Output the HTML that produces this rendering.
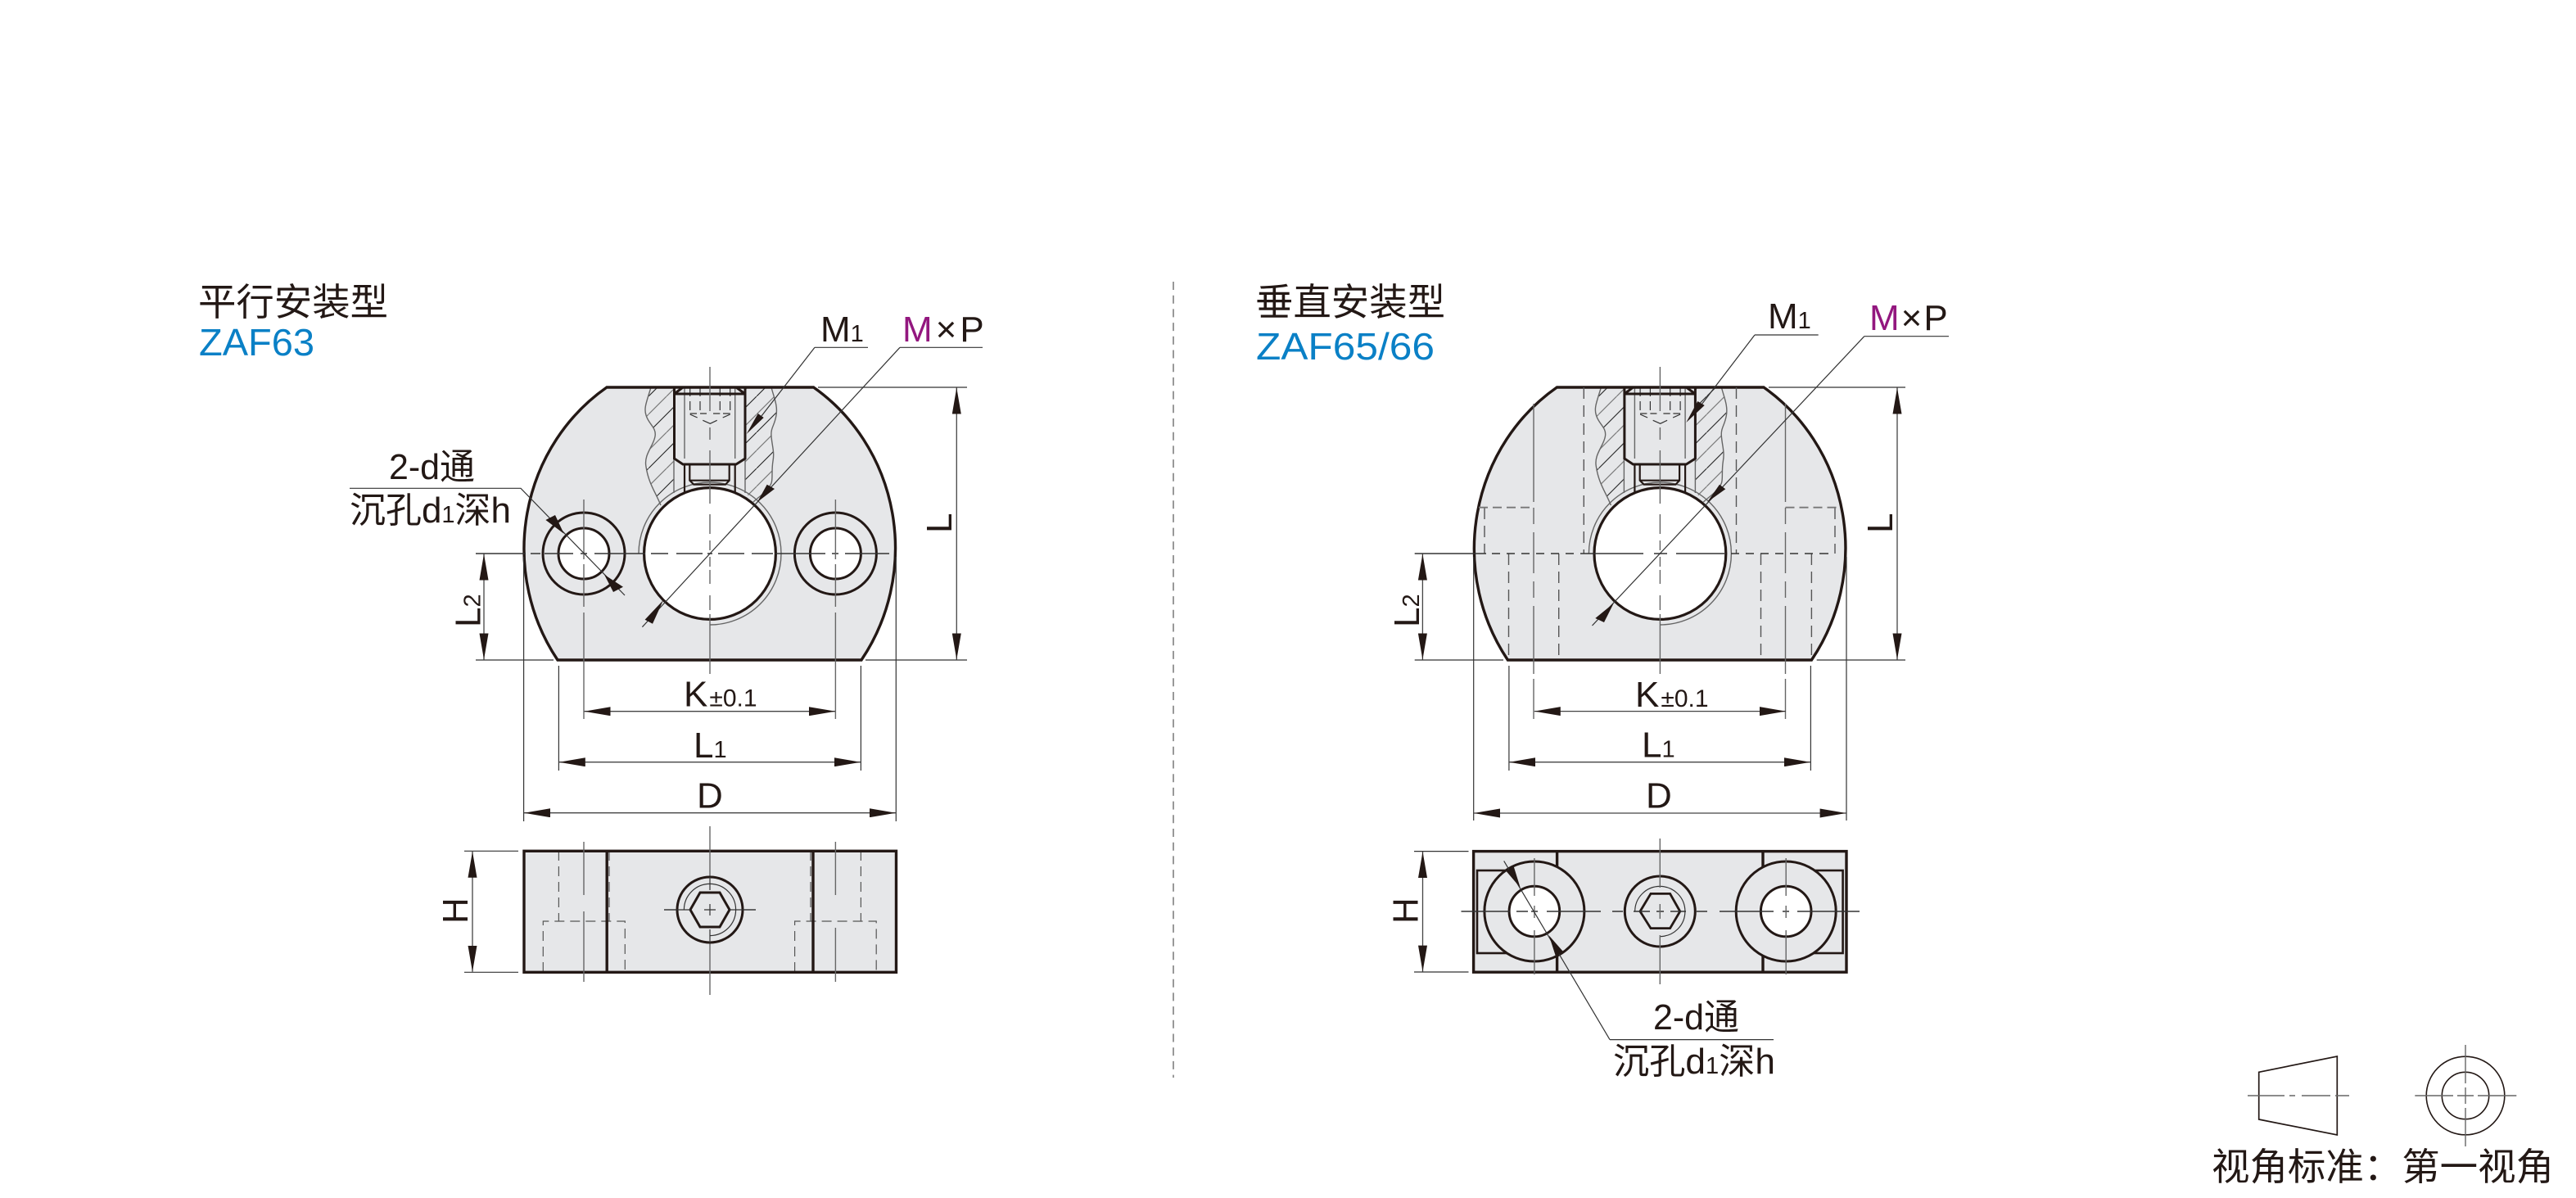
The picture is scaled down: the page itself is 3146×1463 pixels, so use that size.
<!DOCTYPE html>
<html><head><meta charset="utf-8"><style>
html,body{margin:0;padding:0;background:#fff}
svg{display:block}
text{font-family:"Liberation Sans","Noto Sans CJK SC",sans-serif;fill:#231815}
.t{font-size:44px}
.s{font-size:29px}
.c{font-family:"Liberation Sans","Noto Sans CJK SC",sans-serif;font-size:46px}
.b{font-size:46px;fill:#0a80c6}
.th{fill:none;stroke:#231815;stroke-width:3.4;stroke-linejoin:miter}
.m{fill:none;stroke:#231815;stroke-width:2.2}
.n{fill:none;stroke:#333;stroke-width:1.2}
.g{fill:none;stroke:#666;stroke-width:1.4}
.d{fill:none;stroke:#555;stroke-width:1.4;stroke-dasharray:14 8}
.ar{fill:none;stroke:#444;stroke-width:1.3;marker-start:url(#a);marker-end:url(#a)}
.k{fill:#231815;stroke:none}
</style></head><body>
<svg width="3146" height="1463" viewBox="0 0 3146 1463" xmlns="http://www.w3.org/2000/svg">
<defs>
<marker id="a" markerUnits="userSpaceOnUse" markerWidth="33" markerHeight="11" refX="32" refY="5.5" orient="auto-start-reverse"><polygon points="0,0 32,5.5 0,11" fill="#231815"/></marker>
<pattern id="hatch" patternUnits="userSpaceOnUse" width="44" height="44">
<path d="M0,44L44,0" stroke="#222" stroke-width="1.1" fill="none"/>
<path d="M0,22L22,0M22,44L44,22" stroke="#777" stroke-width="1.2" fill="none"/>
</pattern>
<g id="body">
<path d="M741,473 L993.6,473 A227,237 0 0 1 1052,806 L681,806 A227,237 0 0 1 741,473 Z" fill="#e6e7e9"/>
<path d="M795,473 C790,490 786,498 789,507 C792,518 802,522 800,533 C798,545 786,555 789,570 C792,590 800,600 807,617 A87,87 0 0 1 823,601 L823,473 Z" fill="url(#hatch)"/>
<path d="M910,473 L942,473 C945,485 950,495 948,507 C946,520 941,522 942,533 C943,545 946,552 944,563 C942,575 944,585 942,590 C938,600 925,608 920,613 A87,87 0 0 0 910,601 Z" fill="url(#hatch)"/>
<path class="g" d="M795,473 C790,490 786,498 789,507 C792,518 802,522 800,533 C798,545 786,555 789,570 C792,590 800,600 807,617"/>
<path class="g" d="M942,473 C945,485 950,495 948,507 C946,520 941,522 942,533 C943,545 946,552 944,563 C942,575 944,585 942,590 C938,600 925,608 920,613"/>
<path class="g" d="M780,676 A87,87 0 1 1 867,763"/>
<path class="g" d="M836,473V560M897.7,473V560M823,560V602M910,560V602"/>
<path class="n" stroke-dasharray="11 6" d="M842.7,473V505M855,473V505M879.3,473V505M891.7,473V505"/>
<path class="n" d="M842.7,505H851M855,505H863M871,505H879.3M883,505H891.7M842.7,506L851.7,510M882.7,510L891.7,506M858.3,513.3L867.3,517.3L875.7,513.3"/>
<path class="m" stroke-width="3" style="stroke-width:3" d="M823.5,473V560L834,567H899L910,560V473M823.5,481H910M823.5,481L834,473M899,473L910,481"/>
<path class="m" d="M836,567V604M897.7,567V604M842.3,567V586.7L847.3,591.7H886L890.7,586.7V567M842.3,586.7H890.7"/>
<circle cx="867" cy="676" r="80.4" fill="#fff" stroke="#231815" stroke-width="3.2"/>
<path class="th" d="M741,473 L993.6,473 A227,237 0 0 1 1052,806 L681,806 A227,237 0 0 1 741,473 Z"/>
</g>
</defs>

<!-- LEFT TOP VIEW -->
<use href="#body"/>
<g fill="#fff" stroke="#231815" stroke-width="3">
<circle cx="713" cy="676" r="50" fill="none"/><circle cx="713" cy="676" r="31"/>
<circle cx="1020.4" cy="676" r="50" fill="none"/><circle cx="1020.4" cy="676" r="31"/>
</g>
<path class="g" d="M867,448V502M867,522V537M867,550V615M867,628V652M867,660V672M867,680V692M867,696V713M867,727V745M867,750V823"/>
<path class="n" style="stroke-width:1.5" d="M581,676H642M648,676H660M665,676H700M709,676H717M726,676H788M795,676H816M826,676H858M864,676H870M877,676H909M918,676H944M947,676H1008M1016,676H1024M1032,676H1086"/>
<path class="g" d="M713,610V683M713,689V741M713,748V878M1020.4,610V683M1020.4,689V741M1020.4,748V878"/>
<path class="n" d="M639.6,680V1003M1094.3,680V1003M682.4,813V941M1051.4,813V941M581,806H676M1057,806H1181M999,473H1181"/>
<!-- leaders -->
<path class="n" d="M995,424.3H1060M995,424.3L930,508"/>
<path class="n" d="M1099,424.3H1200M1099,424.3L784.4,765.7"/>
<path class="n" d="M427,596.3H636L763,727"/>
<polygon class="k" points="911.7,530 925.7,505 932.7,510"/>
<polygon class="k" points="925,613 936.7,591.7 946,597"/>
<polygon class="k" points="810,733 787.6,756.7 797,761.7"/>
<polygon class="k" points="688.7,651.7 666.4,635 678,629"/>
<polygon class="k" points="738,701.7 749,723 761,716.7"/>
<!-- dims -->
<path class="ar" d="M713.5,868.7H1020"/>
<path class="ar" d="M682.8,930.7H1051"/>
<path class="ar" d="M640,992.7H1094"/>
<path class="ar" d="M1168.3,473.5V805.5"/>
<path class="ar" d="M591,676.5V805.5"/>

<text class="c" x="242" y="385" textLength="232" lengthAdjust="spacingAndGlyphs">平行安装型</text>
<text class="b" x="243" y="434" textLength="141" lengthAdjust="spacingAndGlyphs">ZAF63</text>
<text class="t" x="1002" y="417">M<tspan class="s">1</tspan></text>
<text class="t" x="1102" y="417"><tspan style="fill:#93177f">M</tspan><tspan dx="4">×</tspan><tspan dx="4">P</tspan></text>
<text class="t" x="475" y="585" textLength="105" lengthAdjust="spacingAndGlyphs">2-d通</text>
<text class="t" x="427" y="638" textLength="197" lengthAdjust="spacingAndGlyphs">沉孔d<tspan class="s">1</tspan>深h</text>
<text class="t" x="835" y="862.7">K<tspan style="font-size:30px" dx="2">±0.1</tspan></text>
<text class="t" x="847" y="925">L<tspan class="s">1</tspan></text>
<text class="t" x="851" y="986.7">D</text>
<text class="t" transform="translate(1162,651) rotate(-90)">L</text>
<text class="t" transform="translate(586.7,766) rotate(-90)">L<tspan class="s">2</tspan></text>
<text class="t" transform="translate(571,1128) rotate(-90)">H</text>

<!-- LEFT SIDE VIEW -->
<rect x="640" y="1039.3" width="454.5" height="148" fill="#e6e7e9"/>
<path class="d" style="stroke-dasharray:12 7;stroke-width:1.2" d="M682.4,1039V1125M1051.4,1039V1125M744,1039V1125M990,1039V1125M663.3,1187V1125H763.3V1187M970.6,1187V1125H1070.2V1187"/>
<rect x="640" y="1039.3" width="454.5" height="148" class="th"/>
<path class="th" d="M741.2,1039V1187M993,1039V1187"/>
<path class="g" d="M867,1009V1215M713,1028V1093M713,1113V1133M713,1133V1199M1020.4,1028V1093M1020.4,1133V1199"/>
<path class="n" d="M811,1111H842M891,1111H923M860,1111H874M867,1104V1118M567,1039.3H633M567,1187.3H633"/>
<circle cx="867" cy="1111" r="40" fill="#e6e7e9" stroke="#231815" stroke-width="3"/>
<path class="n" d="M867,1142.6A31.6,31.6 0 1 0 835.4,1111"/>
<polygon points="843,1111 855,1090 879,1090 891,1111 879,1132 855,1132" fill="none" stroke="#231815" stroke-width="3"/>
<path class="n" d="M867,1071V1087M867,1135V1151M811,1111H843M891,1111H923M860,1111H874M867,1104V1118"/>
<path class="ar" d="M577,1039.8V1186.8"/>

<!-- MIDDLE DIVIDER -->
<path d="M1433,344V1316" fill="none" stroke="#999" stroke-width="2" stroke-dasharray="10 6.7"/>

<!-- RIGHT TOP VIEW -->
<use href="#body" transform="translate(1160.4,0)"/>
<path class="d" d="M1934.3,473V676M2120.5,473V676M1842.5,676V806M1903.7,676V806M2150.5,676V806M2212.4,676V806M1813,620V676M2241,620V676"/>
<path class="d" style="stroke:#777;stroke-width:1.8;stroke-dasharray:11 6" d="M1806,619.7H1873M2180.5,619.7H2247"/>
<path class="g" d="M1873,493V613M1873,620V640M1873,650V700M1873,710V730M1873,740V823M1873,829V878M2180.5,493V613M2180.5,620V640M2180.5,650V700M2180.5,710V730M2180.5,740V823M2180.5,829V878"/>
<path class="g" d="M2027.4,448V502M2027.4,522V537M2027.4,550V615M2027.4,628V652M2027.4,660V672M2027.4,680V692M2027.4,696V713M2027.4,727V745M2027.4,750V823"/>
<path class="n" style="stroke-width:1.5" d="M1727.7,676H1815M1822,676H1832M1840,676H1850M1858,676H1868M1876,676H1886M1894,676H1904M1912,676H1922M1930,676H1950M1946,676H2007M2020,676H2036M2047,676H2106M2114,676H2124M2132,676H2142M2150,676H2160M2168,676H2178M2186,676H2196M2204,676H2214M2222,676H2233"/>
<path class="n" d="M1799.7,680V1002M2255,680V1002M1842.9,813V941M2211.4,813V941M1727.7,806H1836M2218.7,806H2327M2160,473H2327"/>
<path class="n" d="M2143,409H2220.7M2143,409L2075,498"/>
<path class="n" d="M2276.8,410.7H2380M2276.8,410.7L1944.5,764"/>
<polygon class="k" points="2059.3,516 2073.3,490 2081.7,495"/>
<polygon class="k" points="2085,613.3 2100,591.7 2107.3,597.3"/>
<polygon class="k" points="1970.7,736.7 1948.3,755 1959,760"/>
<path class="ar" d="M1873.8,868.6H2181"/>
<path class="ar" d="M1843.2,930.7H2211"/>
<path class="ar" d="M1800,993H2254.6"/>
<path class="ar" d="M2317,473.5V805.5"/>
<path class="ar" d="M1737.4,676.5V805.5"/>

<text class="c" x="1533" y="385" textLength="232" lengthAdjust="spacingAndGlyphs">垂直安装型</text>
<text class="b" x="1534" y="439" textLength="218" lengthAdjust="spacingAndGlyphs">ZAF65/66</text>
<text class="t" x="2159" y="401">M<tspan class="s">1</tspan></text>
<text class="t" x="2283" y="403"><tspan style="fill:#93177f">M</tspan><tspan dx="2">×</tspan><tspan dx="2">P</tspan></text>
<text class="t" x="1997" y="863">K<tspan style="font-size:30px" dx="2">±0.1</tspan></text>
<text class="t" x="2005" y="924.6">L<tspan class="s">1</tspan></text>
<text class="t" x="2010" y="986.4">D</text>
<text class="t" transform="translate(2311,651) rotate(-90)">L</text>
<text class="t" transform="translate(1732.8,766) rotate(-90)">L<tspan class="s">2</tspan></text>
<text class="t" transform="translate(1731.4,1128) rotate(-90)">H</text>
<text class="t" x="2019" y="1256.8" textLength="105" lengthAdjust="spacingAndGlyphs">2-d通</text>
<text class="t" x="1970" y="1311" textLength="198" lengthAdjust="spacingAndGlyphs">沉孔d<tspan class="s">1</tspan>深h</text>

<!-- RIGHT SIDE VIEW -->
<rect x="1799.6" y="1039.6" width="455.4" height="147.6" fill="#e6e7e9"/>
<rect x="1804" y="1063" width="80" height="101" fill="none" stroke="#231815" stroke-width="2.6"/>
<rect x="2170" y="1063" width="80.6" height="101" fill="none" stroke="#231815" stroke-width="2.6"/>
<rect x="1799.6" y="1039.6" width="455.4" height="147.6" class="th"/>
<path class="th" d="M1901.6,1039V1187M2153,1039V1187"/>
<g stroke="#231815" stroke-width="3">
<circle cx="1873.9" cy="1113" r="61" fill="#e6e7e9"/><circle cx="1873.9" cy="1113" r="30.8" fill="#fff"/>
<circle cx="2181.2" cy="1113" r="61" fill="#e6e7e9"/><circle cx="2181.2" cy="1113" r="30.8" fill="#fff"/>
<circle cx="2027.3" cy="1113" r="43" fill="#e6e7e9"/>
</g>
<path class="n" d="M2027.3,1143.6A30.6,30.6 0 1 0 1996.7,1113"/>
<polygon points="2003,1113 2016,1091.4 2039.6,1091.4 2051.8,1113 2039.6,1133.6 2016,1133.6" fill="none" stroke="#231815" stroke-width="2.8"/>
<path class="n" style="stroke-width:1.4" d="M1784.5,1113H1844M1852,1113H1866M1870,1113H1878M1889,1113H1955M1969,1113H1982M1995,1113H2015M2023,1113H2032M2040,1113H2059M2072,1113H2085M2100,1113H2166M2177,1113H2185M2195,1113H2271"/>
<path class="g" d="M1873.9,1048V1094M1873.9,1106V1121M1873.9,1136V1190M2181.2,1048V1094M2181.2,1106V1121M2181.2,1136V1190M2027.3,1024V1084M2027.3,1104V1122M2027.3,1142V1202"/>
<path class="n" d="M1727,1039.6H1793.5M1727,1187H1793.5"/>
<path class="n" d="M1966,1269.6H2166M1966,1269.6L1836.7,1051.4"/>
<polygon class="k" points="1856.7,1084 1839.6,1064 1848.6,1057.9"/>
<polygon class="k" points="1891.8,1142.5 1900,1168 1909,1162"/>
<path class="ar" d="M1737.5,1040V1186.6"/>

<!-- LEGEND -->
<polygon points="2758.7,1309.3 2854.3,1290 2854.3,1386 2758.7,1367" fill="none" stroke="#231815" stroke-width="1.7"/>
<path class="g" d="M2745,1338H2790M2796,1338H2803M2811,1338H2846M2852,1338H2869"/>
<circle cx="3011" cy="1338" r="47.8" fill="none" stroke="#231815" stroke-width="1.6"/>
<circle cx="3011" cy="1338" r="28.7" fill="none" stroke="#231815" stroke-width="1.6"/>
<path class="g" d="M2949.3,1338H2996M3001,1338H3021M3026,1338H3073.3M3011,1276V1323M3011,1328V1348M3011,1353V1400"/>
<text class="c" x="2701" y="1441" textLength="418" lengthAdjust="spacingAndGlyphs">视角标准：第一视角</text>
</svg>
</body></html>
